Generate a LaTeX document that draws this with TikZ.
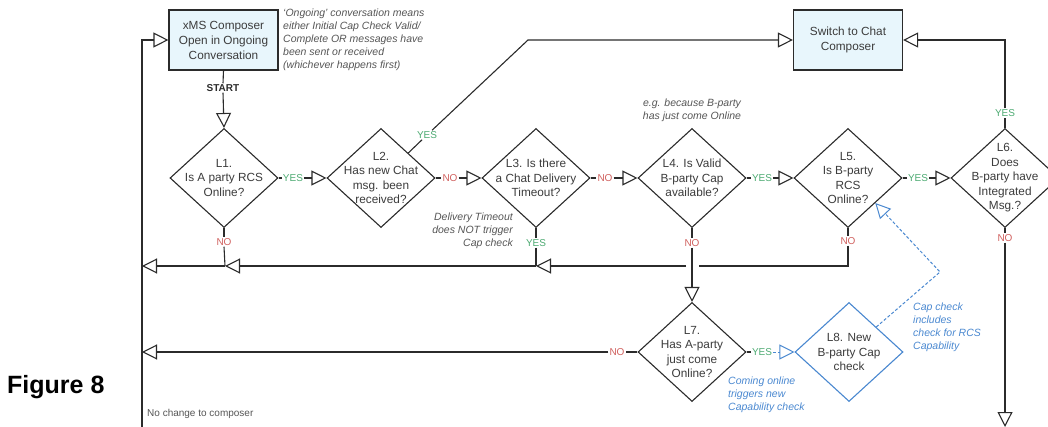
\documentclass[tikz,border=0pt]{standalone}
\usepackage{fontspec}
\setmainfont{Liberation Sans}
\usetikzlibrary{arrows.meta,shapes.geometric,calc}

\definecolor{ink}{HTML}{2B2B2B}
\definecolor{txt}{HTML}{3C3C3C}
\definecolor{notec}{HTML}{555555}
\definecolor{yesg}{HTML}{4DAA72}
\definecolor{nor}{HTML}{D0605E}
\definecolor{blu}{HTML}{4A88D0}
\definecolor{boxfill}{HTML}{E8F6FC}

\begin{document}
\begin{tikzpicture}[x=1pt,y=-1pt,
  conn/.style={draw=ink, line width=1.1pt},
  arr/.style={conn, -{Triangle[open,length=15pt,width=15pt]}},
  barr/.style={draw=blu, line width=1pt, dash pattern=on 3pt off 2pt, -{Triangle[open,length=15pt,width=15pt]}},
  dia/.style={diamond, draw=ink, line width=1.1pt, fill=white, minimum width=108pt, minimum height=99pt, inner sep=0pt},
  bdia/.style={dia, draw=blu},
  dtext/.style={text=txt, align=center, font=\fontsize{11.8}{14.5}\selectfont},
  cbox/.style={draw=ink, line width=1.2pt, fill=boxfill, minimum width=109pt, minimum height=60pt, text=txt, align=center, font=\fontsize{11.8}{15}\selectfont},
  yes/.style={text=yesg, font=\fontsize{10}{12}\selectfont, inner sep=1pt},
  no/.style={text=nor, font=\fontsize{10}{12}\selectfont, inner sep=1pt},
  note/.style={text=notec, font=\fontsize{10.5}{13}\selectfont\itshape, inner sep=0pt},
  bnote/.style={note, text=blu},
]
\useasboundingbox (0,0) rectangle (1048,427);

% composer boxes
\node[cbox] (xms) at (223.5,40) {xMS Composer\\Open in Ongoing\\Conversation};
\node[cbox] (sw) at (848,40) {Switch to Chat\\Composer};

% decision diamonds
\node[dia] (L1) at (224,178) {};
\node[dia] (L2) at (381,178) {};
\node[dia] (L3) at (536,178) {};
\node[dia] (L4) at (692,178) {};
\node[dia] (L5) at (848,178) {};
\node[dia] (L6) at (1005,178) {};
\node[dia] (L7) at (692,352) {};
\node[bdia] (L8) at (849,352) {};

\node[dtext] at (L1) {L1.\\Is A party RCS\\Online?};
\node[dtext] at (L2) {L2.\\Has new Chat\\msg. been\\received?};
\node[dtext] at (L3) {L3. Is there\\a Chat Delivery\\Timeout?};
\node[dtext] at (L4) {L4. Is Valid\\B-party Cap\\available?};
\node[dtext] at (L5) {L5.\\Is B-party\\RCS\\Online?};
\node[dtext] at (L6) {L6.\\Does\\B-party have\\Integrated\\Msg.?};
\node[dtext] at (L7) {L7.\\Has A-party\\just come\\Online?};
\node[dtext] at (L8) {L8. New\\B-party Cap\\check};

% branch labels
\node[font=\bfseries\fontsize{10}{12}\selectfont, text=ink, inner sep=1pt] (start) at (223,88) {START};
\node[yes] (y12) at (293,178) {YES};
\node[no]  (n23) at (450,178) {NO};
\node[no]  (n34) at (605,178) {NO};
\node[yes] (y45) at (762,178) {YES};
\node[yes] (y56) at (918,178) {YES};
\node[yes] (y2)  at (427,135) {YES};
\node[yes] (y6)  at (1005,113) {YES};
\node[no]  (n1)  at (224,242) {NO};
\node[yes] (y3)  at (536,243) {YES};
\node[no]  (n4)  at (692,243) {NO};
\node[no]  (n5)  at (848,241) {NO};
\node[no]  (n6)  at (1005,238) {NO};
\node[no]  (n7)  at (617,352) {NO};
\node[yes] (y7)  at (762,352) {YES};

% routing points
\coordinate (lb) at (142,427);
\coordinate (m1) at (142,266);
\coordinate (m2) at (142,352);
\coordinate (j1) at (225,266);
\coordinate (j3) at (536,266);
\coordinate (k5) at (848,266);
\coordinate (gapR) at (699,266);
\coordinate (gapL) at (686,266);
\coordinate (bend) at (528,40);
\coordinate (up6) at (1005,40);
\coordinate (end6) at (1005,427);
\coordinate (kb) at (940,272);

% main flow
\draw[conn] (xms.south) -- (start.north);
\draw[arr] (start.south) -- (L1.north);
\draw[arr] (lb) |- (xms.west);

\draw[conn] (L1.east) -- (y12.west);
\draw[arr] (y12.east) -- (L2.west);
\draw[conn] (L2.east) -- (n23.west);
\draw[arr] (n23.east) -- (L3.west);
\draw[conn] (L3.east) -- (n34.west);
\draw[arr] (n34.east) -- (L4.west);
\draw[conn] (L4.east) -- (y45.west);
\draw[arr] (y45.east) -- (L5.west);
\draw[conn] (L5.east) -- (y56.west);
\draw[arr] (y56.east) -- (L6.west);

\draw[conn] ($(L2.north)!0.5!(L2.east)$) -- (y2);
\draw[arr] (y2) -- (bend) -- (sw.west);
\draw[conn] (L6.north) -- (y6.south);
\draw[arr] (y6.north) -- (up6) -- (sw.east);

% return paths
\draw[conn] (L1.south) -- (n1.north);
\draw[conn] (n1.south) -- (j1);
\draw[arr] (j1) -- (m1);
\draw[conn] (L3.south) -- (y3.north);
\draw[conn] (y3.south) -- (j3);
\draw[arr] (j3) -- (j1);
\draw[conn] (L5.south) -- (n5.north);
\draw[conn] (n5.south) -- (k5) -- (gapR);
\draw[arr] (gapL) -- (j3);
\draw[conn] (L4.south) -- (n4.north);
\draw[arr] (n4.south) -- (L7.north);
\draw[conn] (L6.south) -- (n6.north);
\draw[arr] (n6.south) -- (end6);
\draw[conn] (L7.west) -- (n7.east);
\draw[arr] (n7.west) -- (m2);
\draw[conn] (L7.east) -- (y7.west);
\draw[barr] (y7.east) -- (L8.west);
\draw[barr] ($(L8.north)!0.5!(L8.east)$) -- (kb) -- ($(L5.south)!0.5!(L5.east)$);

% notes
\node[note, anchor=north west, align=left] (nt1) at (283,9) {`Ongoing' conversation means\\either Initial Cap Check Valid/\\Complete OR messages have\\been sent or received\\(whichever happens first)};
\node[note, align=center] (nt2) at (692,110.5) {e.g. because B-party\\has just come Online};
\node[note, anchor=east, align=right] (nt3) at (513,231) {Delivery Timeout\\does NOT trigger\\Cap check};
\node[bnote, anchor=north west, align=left] (nt4) at (728,377) {Coming online\\triggers new\\Capability check};
\node[bnote, anchor=north west, align=left] (nt5) at (913,303) {Cap check\\includes\\check for RCS\\Capability};

\node[anchor=west, text=black, inner sep=0pt, font=\bfseries\fontsize{25}{28}\selectfont] (fig) at (7,387) {Figure 8};
\node[anchor=west, text=notec, inner sep=0pt, font=\fontsize{10}{12}\selectfont] (nc) at (147,414) {No change to composer};
\end{tikzpicture}
\end{document}
